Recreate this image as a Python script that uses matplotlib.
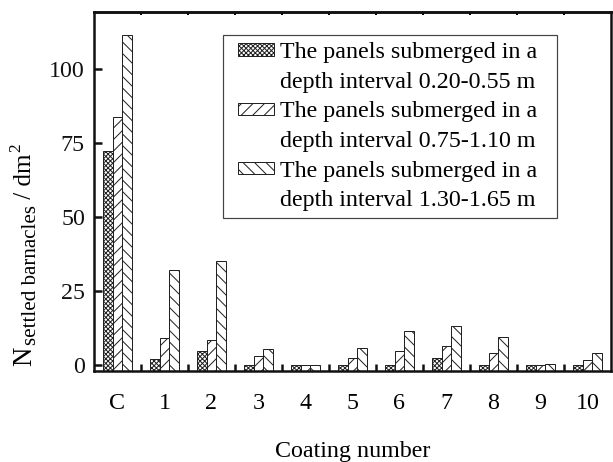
import matplotlib
matplotlib.use('Agg')
import matplotlib.pyplot as plt
from matplotlib.patches import Patch, Rectangle
import numpy as np

# ---- data ----
categories = ['C', '1', '2', '3', '4', '5', '6', '7', '8', '9', '10']
depth_020_055 = [72.5, 2.2, 5.0, 0.0, 0.1, 0.1, 0.1, 2.4, 0.2, 0.1, 0.1]
depth_075_110 = [83.7, 9.4, 8.6, 3.2, 0.1, 2.4, 4.9, 6.7, 4.1, 0.1, 1.8]
depth_130_165 = [111.5, 32.2, 35.2, 5.6, 0.1, 5.8, 11.5, 13.2, 9.5, 0.4, 4.1]
legend_first = ['The panels submerged in a'] * 3
legend_second = ['depth interval 0.20-0.55 m',
                 'depth interval 0.75-1.10 m',
                 'depth interval 1.30-1.65 m']
yticks = [0, 25, 50, 75, 100]
xlabel = 'Coating number'
ylabel_main = 'N'
ylabel_sub = 'settled barnacles'
ylabel_unit = ' / dm'
ylabel_sup = '2'

# ---- style ----
DPI = 138
W, H = 613, 462
def pt(px):
    return px * 72.0 / DPI

plt.rcParams['font.family'] = ['Liberation Serif', 'DejaVu Serif']
plt.rcParams['hatch.linewidth'] = pt(1.0)
FS = pt(24)

fig = plt.figure(figsize=(W / DPI, H / DPI), dpi=DPI)
ax_l, ax_r, ax_t, ax_b = 94, 611, 12.5, 370.5
ax = fig.add_axes([ax_l / W, 1 - ax_b / H, (ax_r - ax_l) / W, (ax_b - ax_t) / H])

ymin, ymax = -1.69, 119.06
x = np.arange(len(categories))
w = 0.208
series = [depth_020_055, depth_075_110, depth_130_165]
hatches = ['x' * 10, '////', '\\' * 4]
ec = '#222222'
for i, (vals, h) in enumerate(zip(series, hatches)):
    v = np.asarray(vals)
    ax.bar(x + (i - 1) * w, v - ymin, bottom=ymin, width=w, facecolor='white',
           edgecolor=ec, linewidth=pt(1.0), hatch=h)

ax.set_xlim(-0.5, len(categories) - 0.5)
ax.set_ylim(ymin, ymax)

for s in ax.spines.values():
    s.set_linewidth(pt(2.5))
    s.set_color('#111111')

ax.set_yticks(yticks)
ax.set_yticklabels([str(t) for t in yticks])
ax.tick_params(axis='y', direction='in', length=pt(8), width=pt(2.5), pad=pt(9),
               labelsize=FS, right=False, colors='#111111')

ax.set_xticks(x[:-1] + 0.5)
ax.tick_params(axis='x', which='major', direction='in', length=pt(7), width=pt(2.5),
               labelbottom=False, colors='#111111')
ax.set_xticks(x, minor=True)
ax.set_xticklabels(categories, minor=True)
ax.tick_params(axis='x', which='minor', length=0, pad=pt(22), labelsize=FS)

top = ax.secondary_xaxis('top')
top.set_xticks(x[:-1] + 0.5)
top.tick_params(direction='in', length=pt(2.5), width=pt(2), labeltop=False)
top.spines['top'].set_linewidth(pt(2.5))

# legend
handles, labels = [], []
for h, l1, l2 in zip(hatches, legend_first, legend_second):
    handles.append(Patch(facecolor='white', edgecolor=ec, linewidth=pt(1.0), hatch=h))
    labels.append(l1)
    handles.append(Patch(facecolor='none', edgecolor='none'))
    labels.append(l2)
leg = ax.legend(handles, labels, loc='upper left',
                bbox_to_anchor=(238 / W, 1 - 42 / H), bbox_transform=fig.transFigure,
                frameon=False, fontsize=FS, handlelength=36 / 24, handleheight=10 / 24,
                handletextpad=6 / 24, labelspacing=0.36, borderpad=0, borderaxespad=0)
fig.add_artist(Rectangle((223 / W, 1 - 218 / H), (557 - 223) / W, (218 - 35) / H,
                         transform=fig.transFigure, fill=False, edgecolor='#444444',
                         linewidth=pt(1.2)))

fig.text(352.5 / W, 1 - 456.5 / H, xlabel, ha='center', va='baseline', fontsize=FS)

# y label built from pieces (rotated), laid out bottom -> top
renderer = fig.canvas.get_renderer()
xb = 31.0
cur = 366.0
for txt, size, dx, gap in [(ylabel_main, 27, 0.0, 2.0), (ylabel_sub, 21, 5.0, 0.0),
                           (ylabel_unit, 25, 0.0, 1.0), (ylabel_sup, 17, -11.0, 0.0)]:
    t = fig.text((xb + dx) / W, 1 - cur / H, txt, fontsize=pt(size), rotation=90,
                 rotation_mode='anchor', ha='left', va='baseline')
    bb = t.get_window_extent(renderer)
    cur = H - bb.y1 - gap

fig.savefig('out.png', dpi=DPI)
